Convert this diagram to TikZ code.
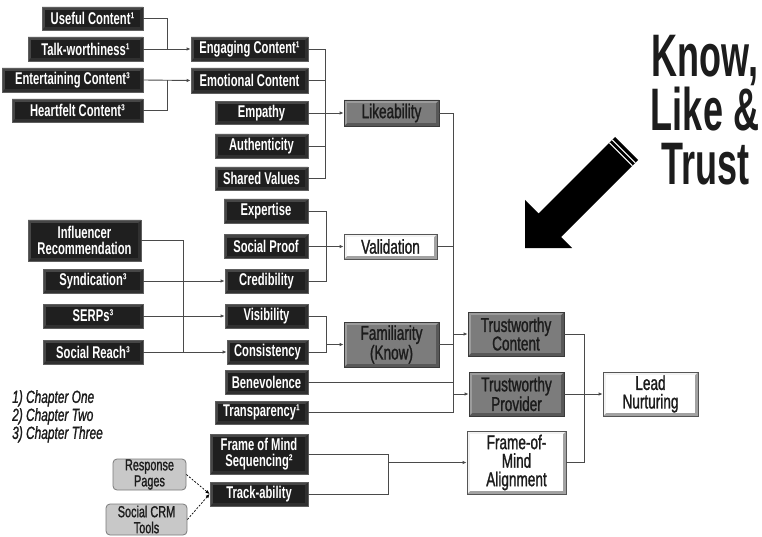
\documentclass[tikz,border=0pt]{standalone}
\usepackage{fontspec}
\setmainfont{Liberation Sans}
\newfontfamily\cnd[FakeStretch=0.66]{Liberation Sans}
\newfontfamily\cndmed[FakeStretch=0.68,FakeBold=1.2]{Liberation Sans}
\newfontfamily\cndbig[FakeStretch=0.6]{Liberation Sans}
\usetikzlibrary{arrows.meta}

\definecolor{linec}{HTML}{4A4A4A}
\definecolor{dkBorder}{HTML}{5E5E5E}
\definecolor{dkLight}{HTML}{464646}
\definecolor{dkDark}{HTML}{303030}
\definecolor{dkFace}{HTML}{1F1F1F}
\definecolor{grBorder}{HTML}{3A3A3A}
\definecolor{grLight}{HTML}{9C9C9C}
\definecolor{grDark}{HTML}{585858}
\definecolor{grFace}{HTML}{7C7C7C}
\definecolor{whBorder}{HTML}{555555}
\definecolor{whLight}{HTML}{F2F2F2}
\definecolor{whDark}{HTML}{A2A2A2}
\definecolor{ltFill}{HTML}{C8C8C8}
\definecolor{ltBorder}{HTML}{7A7A7A}
\definecolor{ink}{HTML}{1C1C1C}

\tikzset{
  % bevelled button: border, light band (top/left), dark band (bottom/right), face
  bevel/.style n args={4}{
    draw=#1, line width=0.8pt, inner sep=0pt,
    path picture={
      \fill[#3] (path picture bounding box.south west) rectangle (path picture bounding box.north east);
      \fill[#2] (path picture bounding box.south west) -- (path picture bounding box.north west)
        -- (path picture bounding box.north east) -- ([shift={(-3pt,-3pt)}]path picture bounding box.north east)
        -- ([shift={(3pt,-3pt)}]path picture bounding box.north west) -- ([shift={(3pt,3pt)}]path picture bounding box.south west) -- cycle;
      \fill[#4] ([shift={(3pt,3pt)}]path picture bounding box.south west) rectangle ([shift={(-3pt,-3pt)}]path picture bounding box.north east);
    }},
  dk/.style={bevel={dkBorder}{dkLight}{dkDark}{dkFace}, text=white, align=center,
    font=\cnd\bfseries\fontsize{17}{16.5}\selectfont},
  gr/.style={bevel={grBorder}{grLight}{grDark}{grFace}, text=ink, align=center,
    font=\cndmed\fontsize{20}{18.5}\selectfont},
  wh/.style={bevel={whBorder}{whLight}{whDark}{white}, text=ink, align=center,
    font=\cndmed\fontsize{20}{18.5}\selectfont},
  lt/.style={draw=ltBorder, fill=ltFill, line width=0.8pt, rounded corners=4pt, inner sep=0pt,
    text=ink, align=center, font=\cndmed\fontsize{16}{16}\selectfont},
  conn/.style={draw=linec, line width=0.9pt},
  arr/.style={conn, -{Latex[length=4pt,width=3.5pt]}},
  dsh/.style={draw=black, line width=0.7pt, dash pattern=on 2pt off 1.5pt, -{Latex[length=4pt,width=3.5pt]}},
}

\begin{document}
\begin{tikzpicture}[x=1pt,y=-1pt]
\useasboundingbox (0,0) rectangle (762,537);
\fill[white] (0,0) rectangle (762,537);

% ---- content group
\node[dk, minimum width=101, minimum height=23] (useful) at (92.5,18.5) {Useful Content¹};
\node[dk, minimum width=115, minimum height=24] (talk) at (85.5,49) {Talk-worthiness¹};
\node[dk, minimum width=141, minimum height=24] (entert) at (72.5,80) {Entertaining Content³};
\node[dk, minimum width=131, minimum height=23] (heart) at (77.5,110.5) {Heartfelt Content³};
\node[dk, minimum width=117, minimum height=24] (engaging) at (249.5,49) {Engaging Content¹};
\node[dk, minimum width=117, minimum height=25] (emotional) at (249.5,80.5) {Emotional Content};
\node[dk, minimum width=93, minimum height=23] (empathy) at (261.5,113) {Empathy};
\node[dk, minimum width=93, minimum height=24] (authentic) at (261.5,146) {Authenticity};
\node[dk, minimum width=93, minimum height=23] (shared) at (261.5,178.5) {Shared Values};

% ---- validation group
\node[dk, minimum width=84, minimum height=24] (expertise) at (266,211) {Expertise};
\node[dk, minimum width=84, minimum height=24] (socproof) at (266,246.5) {Social Proof};
\node[dk, minimum width=83, minimum height=24] (credib) at (266.5,281) {Credibility};

% ---- familiarity group
\node[dk, minimum width=83, minimum height=24] (visib) at (266.5,316) {Visibility};
\node[dk, minimum width=81, minimum height=24] (consist) at (267.5,352) {Consistency};
\node[dk, minimum width=113, minimum height=41] (influ) at (84.5,240.5) {Influencer\\Recommendation};
\node[dk, minimum width=100, minimum height=24] (syndic) at (93,281) {Syndication³};
\node[dk, minimum width=100, minimum height=24] (serps) at (93,316) {SERPs³};
\node[dk, minimum width=100, minimum height=24] (reach) at (93,352) {Social Reach³};

% ---- provider and alignment inputs
\node[dk, minimum width=83, minimum height=24] (benev) at (266.5,382) {Benevolence};
\node[dk, minimum width=93, minimum height=23] (transp) at (261.5,412.5) {Transparency¹};
\node[dk, minimum width=98, minimum height=40] (fomseq) at (259,454) {Frame of Mind\\Sequencing²};
\node[dk, minimum width=98, minimum height=24] (track) at (259,494) {Track-ability};
\node[lt, minimum width=73, minimum height=31] (resp) at (149.5,474.5) {Response\\Pages};
\node[lt, minimum width=81, minimum height=31] (crm) at (146.5,519.5) {Social CRM\\Tools};

% ---- intermediate and final stages
\node[gr, minimum width=95, minimum height=26] (like) at (391.5,113) {Likeability};
\node[wh, minimum width=93, minimum height=25] (valid) at (390.5,246.5) {Validation};
\node[gr, minimum width=95, minimum height=45] (famil) at (391.5,344.5) {Familiarity\\(Know)};
\node[gr, minimum width=96, minimum height=44] (tcont) at (516,334) {Trustworthy\\Content};
\node[gr, minimum width=95, minimum height=44] (tprov) at (516.5,394) {Trustworthy\\Provider};
\node[wh, minimum width=99, minimum height=63] (foma) at (516.5,462.5) {Frame-of-\\Mind\\Alignment};
\node[wh, minimum width=95, minimum height=44] (lead) at (650.5,394) {Lead\\Nurturing};

% ---- legend and title
\node[anchor=north west, align=left, text=ink, inner sep=0pt,
      font=\cndmed\itshape\fontsize{17.5}{18}\selectfont] (legend) at (12,390)
  {1) Chapter One\\2) Chapter Two\\3) Chapter Three};
\node[anchor=base, align=center, text=ink, inner sep=0pt,
      font=\cndbig\bfseries\fontsize{60}{54}\selectfont] (title) at (705,185)
  {Know,\\Like \&\\Trust};

% ---- big pointer arrow
\fill[black] (525,200) -- (538.5,213.5) -- (615,137) -- (638,160) -- (561,237) -- (572,248) -- (525,248) -- cycle;
\draw[white, line width=1pt] (612.2,139.8) -- (635.2,162.8);
\draw[white, line width=1pt] (609.3,142.7) -- (632.3,165.7);

% ---- junction points
\coordinate (jEng) at (167,49);
\coordinate (jEmo) at (167,80);
\coordinate (jLike) at (325,113);
\coordinate (jVal) at (326,246.5);
\coordinate (jFam) at (326,344.5);
\coordinate (jInf) at (183,352);
\coordinate (jTrust) at (453,113);
\coordinate (jTC) at (453,334);
\coordinate (jTP) at (453,394);
\coordinate (jLead) at (584,394);
\coordinate (jFoma) at (388,462.5);

% ---- connectors
\draw[conn] (useful.east) -| (jEng);
\draw[arr] (talk.east) -- (engaging.west);
\draw[arr] (entert.east) -- (emotional.west);
\draw[conn] (heart.east) -| (jEmo);

\draw[conn] (engaging.east) -| (jLike);
\draw[conn] (shared.east) -| (jLike);
\draw[conn] (emotional.east) -- (emotional.east -| jLike);
\draw[conn] (authentic.east) -- (authentic.east -| jLike);
\draw[arr] (empathy.east) -- (like.west);

\draw[conn] (expertise.east) -| (jVal);
\draw[conn] (credib.east) -| (jVal);
\draw[arr] (socproof.east) -- (valid.west);

\draw[conn] (visib.east) -| (jFam);
\draw[conn] (consist.east) -| (jFam);
\draw[arr] (jFam) -- (famil.west);

\draw[conn] (influ.east) -| (jInf);
\draw[arr] (reach.east) -- (consist.west);
\draw[arr] (syndic.east) -- (credib.west);
\draw[arr] (serps.east) -- (visib.west);

\draw[conn] (like.east) -| (transp.east -| jTrust) -- (transp.east);
\draw[conn] (valid.east) -- (valid.east -| jTrust);
\draw[conn] (famil.east) -- (famil.east -| jTrust);
\draw[conn] (benev.east) -- (benev.east -| jTrust);
\draw[arr] (jTC) -- (tcont.west);
\draw[arr] (jTP) -- (tprov.west);

\draw[conn] (tcont.east) -| (jLead);
\draw[conn] (foma.east) -| (jLead);
\draw[arr] (tprov.east) -- (lead.west);

\draw[conn] (fomseq.east) -| (jFoma);
\draw[conn] (track.east) -| (jFoma);
\draw[arr] (jFoma) -- (foma.west);

\draw[dsh] (resp.east) -- (track.west);
\draw[dsh] (crm.east) -- (track.west);
\end{tikzpicture}
\end{document}
